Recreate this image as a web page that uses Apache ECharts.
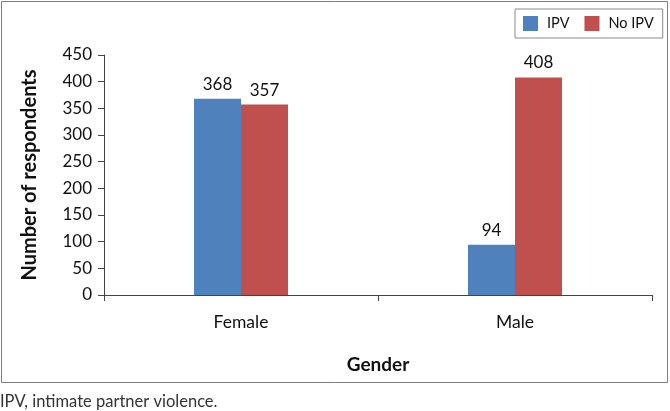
<!DOCTYPE html>
<html><head><meta charset="utf-8">
<script src="https://cdn.jsdelivr.net/npm/echarts@6/dist/echarts.min.js"></script>
<style>html,body{margin:0;padding:0;background:#fff}#c{width:670px;height:411px}</style>
</head><body><div id="c"></div>
<script>
const categories = ['Female', 'Male'];
const ipv = [368, 94];
const noIpv = [357, 408];
const yTicks = [0, 450, 50];
const F = 'Lato, "Noto Sans", sans-serif';
const chart = echarts.init(document.getElementById('c'));
chart.setOption({
  animation: false,
  textStyle: {fontFamily: F},
  graphic: [
    {type: 'rect', shape: {x: 1.5, y: 1.5, width: 666, height: 381}, style: {fill: 'none', stroke: '#7f7f7f', lineWidth: 1}, silent: true},
    {type: 'text', left: 0, top: 393, style: {text: 'IPV, intimate partner violence.', font: '16.5px ' + F, fill: '#333'}}
  ],
  legend: {
    left: 515, top: 9, itemWidth: 15, itemHeight: 15, itemGap: 15,
    borderColor: '#8a8a8a', borderWidth: 1, padding: [7, 9, 7, 8],
    textStyle: {fontSize: 14.5, color: '#111', fontFamily: F, padding: [0, 0, 0, 4]},
    icon: 'rect',
    data: ['IPV', 'No IPV']
  },
  grid: {left: 104, right: 18, top: 55, bottom: 116},
  xAxis: {
    type: 'category', data: categories,
    name: 'Gender', nameLocation: 'middle', nameGap: 60,
    nameTextStyle: {fontSize: 19, fontWeight: 'bold', color: '#111', fontFamily: F},
    axisLine: {lineStyle: {color: '#444'}},
    axisTick: {show: true, length: 6, lineStyle: {color: '#444'}},
    axisLabel: {fontSize: 17.5, color: '#111', margin: 18}
  },
  yAxis: {
    type: 'value', min: yTicks[0], max: yTicks[1], interval: yTicks[2],
    name: 'Number of respondents', nameLocation: 'middle', nameGap: 64,
    nameTextStyle: {fontSize: 20, fontWeight: 'bold', color: '#111', fontFamily: F},
    axisLine: {show: true, lineStyle: {color: '#444'}},
    axisTick: {show: true, length: 6, lineStyle: {color: '#444'}},
    axisLabel: {fontSize: 17, color: '#111', margin: 12},
    splitLine: {show: false}
  },
  series: [
    {name: 'IPV', type: 'bar', data: ipv, barWidth: 47, barGap: '0%', itemStyle: {color: '#4f81bd'},
     label: {show: true, position: 'top', fontSize: 17, color: '#111', distance: 6}},
    {name: 'No IPV', type: 'bar', data: noIpv, barWidth: 47, itemStyle: {color: '#c0504d'},
     label: {show: true, position: 'top', fontSize: 17, color: '#111', distance: 6}}
  ]
});
</script></body></html>
